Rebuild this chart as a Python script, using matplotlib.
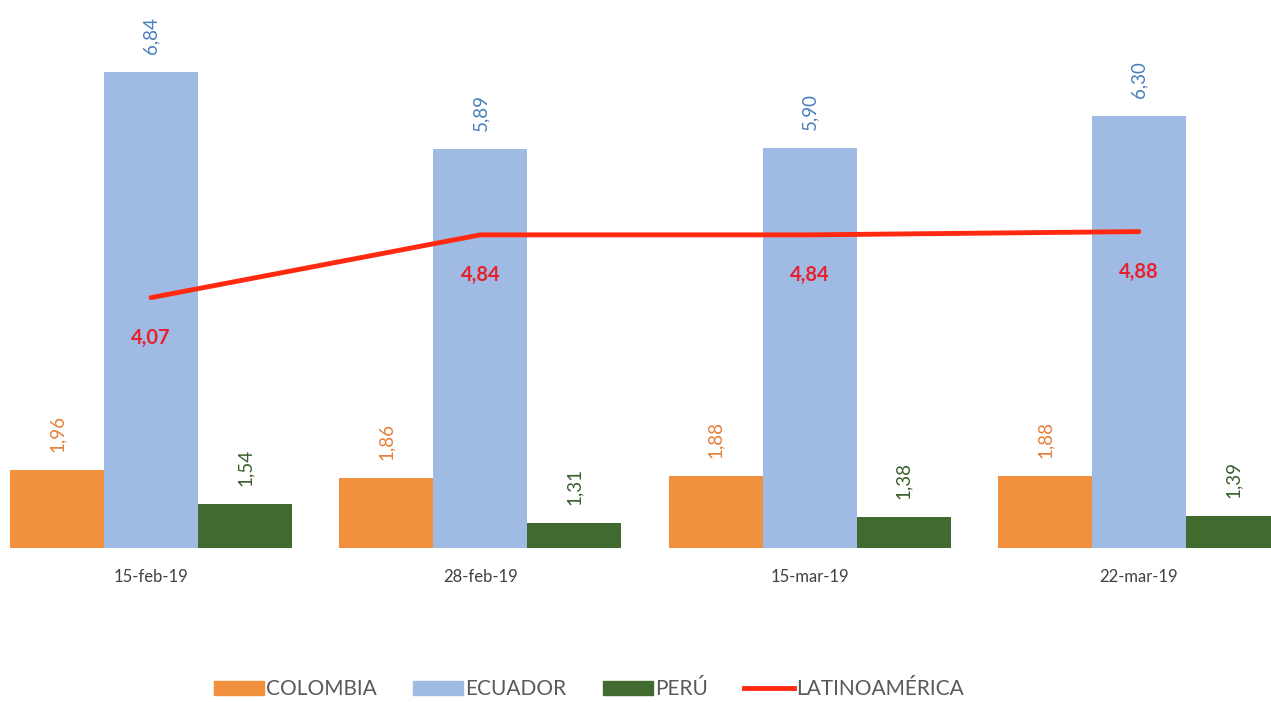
import matplotlib
matplotlib.use("Agg")
import matplotlib.pyplot as plt
from matplotlib.patches import Patch
from matplotlib.lines import Line2D
import numpy as np

plt.rcParams['font.family'] = ['Lato', 'DejaVu Sans']

categories = ["15-feb-19", "28-feb-19", "15-mar-19", "22-mar-19"]
colombia = [1.96, 1.86, 1.88, 1.88]
ecuador = [6.84, 5.89, 5.90, 6.30]
peru = [1.54, 1.31, 1.38, 1.39]
latam = [4.07, 4.84, 4.84, 4.88]

c_col, c_ecu, c_per, c_lat = "#F1913D", "#A0BBE3", "#416B2E", "#FF2A10"
t_col, t_ecu, t_per, t_lat = "#E5803A", "#4A7EC0", "#3C5F2B", "#E8202E"

def fmt(v):
    return f"{v:.2f}".replace(".", ",")

fig = plt.figure(figsize=(12.71, 7.02), dpi=100)
ax = fig.add_axes([0, 0.2194, 1, 0.7806])
x = np.arange(len(categories))
bw = 0.2855

for vals, off, col, tcol in [(colombia, -bw, c_col, t_col), (ecuador, 0, c_ecu, t_ecu), (peru, bw, c_per, t_per)]:
    ax.bar(x + off, np.array(vals) - 1.0, bottom=1.0, width=bw, color=col, linewidth=0)
    for xi, v in zip(x + off, vals):
        ax.annotate(fmt(v), (xi, v), xytext=(0, 13), textcoords="offset points",
                    rotation=90, ha="center", va="bottom", fontsize=13.5, color=tcol)

ax.plot(x, latam, color=c_lat, linewidth=3.5, solid_capstyle="round")
for xi, v in zip(x, latam):
    ax.annotate(fmt(v), (xi, v), xytext=(0, -29), textcoords="offset points",
                ha="center", va="center", fontsize=14.5, fontweight="bold", color=t_lat)

ax.set_xlim(-0.4586, 3.401)
ax.set_ylim(1.0, 7.72)
ax.set_xticks(x)
ax.set_xticklabels(categories, fontsize=12, color="#404040")
ax.tick_params(axis="x", length=0, pad=15)
ax.set_yticks([])
for s in ax.spines.values():
    s.set_visible(False)

handles = [Patch(color=c_col), Patch(color=c_ecu), Patch(color=c_per), Line2D([0], [0], color=c_lat, linewidth=3.5)]
labels = ["COLOMBIA", "ECUADOR", "PERÚ", "LATINOAMÉRICA"]
fig.legend(handles, labels, loc="center", bbox_to_anchor=(0.4635, 0.018), ncol=4, frameon=False,
           fontsize=15, labelcolor="#595959", handlelength=2.4, handleheight=0.7,
           handletextpad=0.1, columnspacing=1.75)

fig.savefig("out.png", dpi=100)
